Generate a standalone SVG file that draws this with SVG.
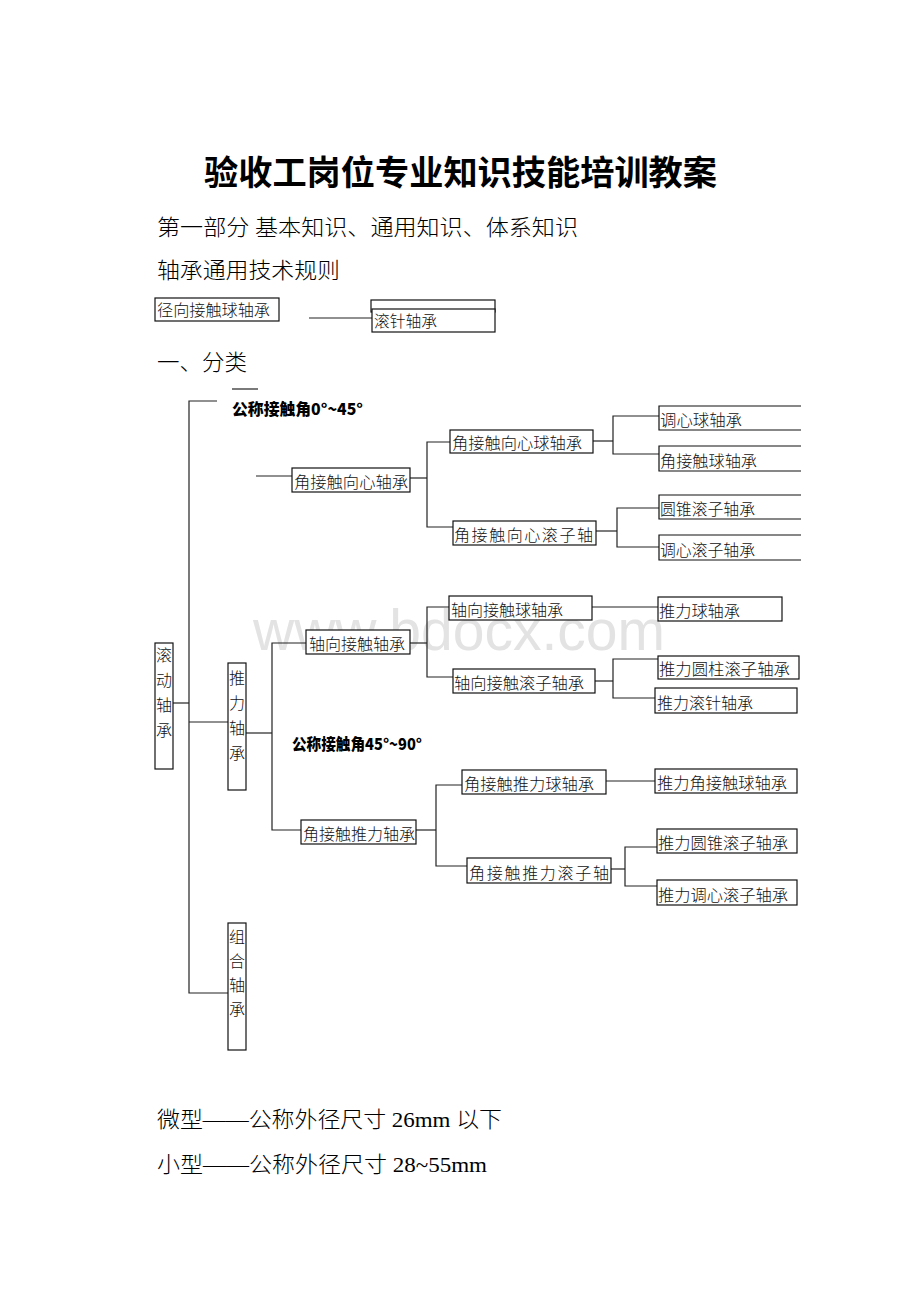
<svg xmlns="http://www.w3.org/2000/svg" width="920" height="1302" viewBox="0 0 920 1302">
<style>
.bg{fill:#fff}
.wm{font-family:"Liberation Sans",Arial,sans-serif;font-size:58px;fill:#e3e3e3}
.title{font-family:"Noto Sans CJK SC",sans-serif;font-size:34px;font-weight:700;fill:#000}
.para{font-family:"Liberation Serif","Noto Sans CJK SC",serif;font-size:22px;font-weight:300;fill:#000}
.lbl{font-family:"Noto Sans CJK SC",sans-serif;font-size:16px;font-weight:900;fill:#000}
.box rect,.box path{fill:#fff;stroke:#111;stroke-width:1.2}
.box text{font-family:"Liberation Serif","Noto Sans CJK SC",serif;font-size:16px;font-weight:300;fill:#111}
.vt{text-anchor:middle;font-size:17px}
#connectors path{fill:none;stroke:#222;stroke-width:1.2}
</style>
<rect class="bg" x="0" y="0" width="920" height="1302"/>
<text class="wm" x="253" y="650" textLength="412" lengthAdjust="spacingAndGlyphs">www.bdocx.com</text>

<g id="header">
<text class="title" x="204" y="185" textLength="513" lengthAdjust="spacingAndGlyphs">验收工岗位专业知识技能培训教案</text>
<text class="para" x="157" y="235" textLength="421" lengthAdjust="spacingAndGlyphs">第一部分 基本知识、通用知识、体系知识</text>
<text class="para" x="157" y="278" textLength="183" lengthAdjust="spacingAndGlyphs">轴承通用技术规则</text>
<text class="para" x="157" y="370" textLength="90" lengthAdjust="spacingAndGlyphs">一、分类</text>
</g>

<g id="connectors">
<path d="M309,318 H372"/>
<path d="M232,389 H258"/>
<path d="M217,401 H189 V993 H228"/>
<path d="M173,703 H189"/>
<path d="M189,722 H228"/>
<path d="M256,476 H292"/>
<path d="M410,478 H427"/>
<path d="M450,442 H427 V527 H453"/>
<path d="M593,441 H613"/>
<path d="M659,416 H613 V454 H659"/>
<path d="M596,531 H617"/>
<path d="M659,508 H617 V547 H659"/>
<path d="M246,733 H272"/>
<path d="M306,643 H272 V830 H301"/>
<path d="M410,643 H427"/>
<path d="M449,607 H427 V677 H453"/>
<path d="M592,607 H658"/>
<path d="M595,681 H613"/>
<path d="M658,659 H613 V698 H655"/>
<path d="M416,830 H436"/>
<path d="M462,785 H436 V866 H467"/>
<path d="M606,781 H655"/>
<path d="M611,869 H625"/>
<path d="M657,847 H625 V886 H657"/>
</g>

<g id="n-radial" class="box"><rect x="155" y="298" width="124" height="23"/><text x="157" y="316" textLength="113" lengthAdjust="spacingAndGlyphs">径向接触球轴承</text></g>
<g id="n-hidden" class="box"><rect x="371" y="300" width="124" height="12"/></g>
<g id="n-needle" class="box"><rect x="372" y="309" width="123" height="23"/><text x="374" y="327" textLength="63" lengthAdjust="spacingAndGlyphs">滚针轴承</text></g>

<text id="lbl1" class="lbl" x="232" y="415" textLength="131" lengthAdjust="spacingAndGlyphs">公称接触角0°~45°</text>
<text id="lbl2" class="lbl" x="292" y="750" textLength="130" lengthAdjust="spacingAndGlyphs">公称接触角45°~90°</text>

<g id="n-rolling" class="box"><rect x="155" y="643" width="18" height="126"/><text class="vt"><tspan x="164" y="661">滚</tspan><tspan x="164" y="686">动</tspan><tspan x="164" y="711">轴</tspan><tspan x="164" y="736">承</tspan></text></g>
<g id="n-thrust" class="box"><rect x="228" y="663" width="18" height="127"/><text class="vt"><tspan x="237" y="684">推</tspan><tspan x="237" y="709">力</tspan><tspan x="237" y="734">轴</tspan><tspan x="237" y="759">承</tspan></text></g>
<g id="n-combo" class="box"><rect x="228" y="923" width="18" height="127"/><text class="vt"><tspan x="237" y="943">组</tspan><tspan x="237" y="967">合</tspan><tspan x="237" y="991">轴</tspan><tspan x="237" y="1015">承</tspan></text></g>

<g id="n-acr" class="box"><rect x="292" y="468" width="118" height="24"/><text x="294" y="488" textLength="114" lengthAdjust="spacingAndGlyphs">角接触向心轴承</text></g>
<g id="n-acrb" class="box"><rect x="450" y="430" width="143" height="23"/><text x="452" y="449" textLength="130" lengthAdjust="spacingAndGlyphs">角接触向心球轴承</text></g>
<g id="n-sab" class="box"><path d="M801,406 H659 V430 H801"/><text x="660" y="426" textLength="82" lengthAdjust="spacingAndGlyphs">调心球轴承</text></g>
<g id="n-acb" class="box"><path d="M801,446 H659 V471 H801"/><text x="660" y="467" textLength="97" lengthAdjust="spacingAndGlyphs">角接触球轴承</text></g>
<g id="n-acrr" class="box"><rect x="453" y="521" width="143" height="24"/><text x="454" y="541" textLength="139" lengthAdjust="spacing">角接触向心滚子轴</text></g>
<g id="n-tapered" class="box"><path d="M801,495 H659 V519 H801"/><text x="660" y="515" textLength="95" lengthAdjust="spacingAndGlyphs">圆锥滚子轴承</text></g>
<g id="n-sar" class="box"><path d="M801,535 H659 V560 H801"/><text x="660" y="556" textLength="95" lengthAdjust="spacingAndGlyphs">调心滚子轴承</text></g>

<g id="n-axial" class="box"><rect x="306" y="630" width="104" height="24"/><text x="309" y="650" textLength="96" lengthAdjust="spacingAndGlyphs">轴向接触轴承</text></g>
<g id="n-axb" class="box"><rect x="449" y="596" width="143" height="24"/><text x="451" y="616" textLength="112" lengthAdjust="spacingAndGlyphs">轴向接触球轴承</text></g>
<g id="n-tb" class="box"><rect x="658" y="597" width="124" height="24"/><text x="659" y="617" textLength="81" lengthAdjust="spacingAndGlyphs">推力球轴承</text></g>
<g id="n-axr" class="box"><rect x="453" y="669" width="142" height="24"/><text x="454" y="689" textLength="130" lengthAdjust="spacingAndGlyphs">轴向接触滚子轴承</text></g>
<g id="n-tcr" class="box"><rect x="658" y="656" width="141" height="23"/><text x="659" y="675" textLength="131" lengthAdjust="spacingAndGlyphs">推力圆柱滚子轴承</text></g>
<g id="n-tn" class="box"><rect x="655" y="688" width="142" height="25"/><text x="657" y="709" textLength="96" lengthAdjust="spacingAndGlyphs">推力滚针轴承</text></g>

<g id="n-act" class="box"><rect x="301" y="820" width="115" height="24"/><text x="303" y="840" textLength="112" lengthAdjust="spacingAndGlyphs">角接触推力轴承</text></g>
<g id="n-actb" class="box"><rect x="462" y="770" width="144" height="24"/><text x="464" y="790" textLength="130" lengthAdjust="spacingAndGlyphs">角接触推力球轴承</text></g>
<g id="n-tacb" class="box"><rect x="655" y="769" width="142" height="24"/><text x="657" y="789" textLength="130" lengthAdjust="spacingAndGlyphs">推力角接触球轴承</text></g>
<g id="n-actr" class="box"><rect x="467" y="858" width="144" height="25"/><text x="469" y="879" textLength="140" lengthAdjust="spacing">角接触推力滚子轴</text></g>
<g id="n-ttr" class="box"><rect x="657" y="829" width="140" height="24"/><text x="658" y="849" textLength="130" lengthAdjust="spacingAndGlyphs">推力圆锥滚子轴承</text></g>
<g id="n-tsr" class="box"><rect x="657" y="880" width="140" height="25"/><text x="658" y="901" textLength="130" lengthAdjust="spacingAndGlyphs">推力调心滚子轴承</text></g>

<g id="footer">
<text class="para" x="157" y="1127" textLength="345" lengthAdjust="spacingAndGlyphs">微型——公称外径尺寸 26mm 以下</text>
<text class="para" x="157" y="1172" textLength="330" lengthAdjust="spacingAndGlyphs">小型——公称外径尺寸 28~55mm</text>
</g>
</svg>
